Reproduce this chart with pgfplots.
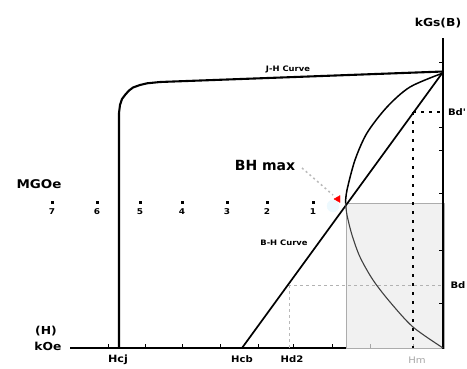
\documentclass[border=0pt]{standalone}
\usepackage{pgfplots}
\pgfplotsset{compat=1.18}
\usepackage{fontspec}
\setmainfont{DejaVu Sans}
\newfontfamily\lbl{DejaVu Sans}[FakeStretch=1.12]

\begin{document}
\begin{tikzpicture}
\begin{axis}[name=ax, scale only axis, width=467pt, height=368pt,
  xmin=0, xmax=467, ymin=0, ymax=368, y dir=reverse,
  hide axis, clip=false, unbounded coords=jump]

% second-quadrant working area (shaded)
\addplot[fill=gray!11, draw=gray!65, line width=0.8pt]
  coordinates {(346,203) (444,203) (444,348) (346,348)} -- cycle;

% B axis and H axis
\addplot[black, line width=2.3pt] coordinates {(443,38) (443,349)};
\addplot[black, line width=2.3pt] coordinates {(70,348) (346,348)};

% ticks on the H axis
\addplot[black, line width=1pt] coordinates {
  (108,348) (108,344) (nan,nan) (145,348) (145,344) (nan,nan)
  (182,348) (182,344) (nan,nan) (220,348) (220,344) (nan,nan)
  (258,348) (258,344) (nan,nan) (293,348) (293,344) (nan,nan)
  (332,348) (332,344)};
\addplot[gray!70, line width=0.8pt] coordinates {
  (370,348) (370,344) (nan,nan) (413,348) (413,344)};
% ticks on the B axis
\addplot[black, line width=1pt] coordinates {
  (443,62) (439,62) (nan,nan) (443,127) (439,127) (nan,nan)
  (443,150) (439,150) (nan,nan) (443,193) (439,193) (nan,nan)
  (443,250) (439,250) (nan,nan) (443,303) (439,303)};

% reference lines for the working points
\addplot[gray!60, dashed, line width=0.9pt] coordinates {(288,285) (443,285)};
\addplot[gray!55, dashed, line width=0.9pt] coordinates {(289,285) (289,348)};
\addplot[black, line width=1.8pt, dash pattern=on 3pt off 6pt]
  coordinates {(413,112) (413,348)};
\addplot[black, line width=1.8pt, dash pattern=on 3pt off 5pt]
  coordinates {(413,112) (443,112)};

% J-H curve (intrinsic)
\addplot[black, line width=2.1pt] coordinates {
  (119,348) (119,113) (120,105) (122,99) (125,95) (129,90.5) (133,87.5)
  (140,85) (147,83.3) (160,82) (443,71.5)};

% B-H curve (normal)
\addplot[black, line width=1.7pt] coordinates {(242,348) (443,72)};

% constant energy product curve through the working point
\addplot[black, line width=1.5pt, smooth] coordinates {
  (443,73) (410,87) (387,107) (367,133) (355,160) (347,190) (345.5,203)};
\addplot[black!75, line width=1.1pt, smooth] coordinates {
  (345.5,203) (347,215) (352,235) (360,257) (373,280) (390,302)
  (413,327) (443,348)};

% pointer to the maximum energy product
\addplot[gray!55, line width=1.5pt, dash pattern=on 2pt off 3pt]
  coordinates {(302,168) (333,195)};
\addplot[only marks, mark=*, mark size=6pt, cyan!7, mark options={draw=none}]
  coordinates {(333,206)};
\addplot[only marks, mark=triangle*, mark size=4pt, red,
  mark options={rotate=-30, fill=red}] coordinates {(338,199)};

% energy product scale (MGOe)
\addplot[only marks, mark=square*, mark size=1.1pt, black]
  coordinates {(52,202) (97,202) (140,202) (182,202) (227,202) (267,202) (313,202)};

\node[font=\lbl\bfseries\fontsize{12}{14}\selectfont] at (axis cs:39,184) {MGOe};
\node[font=\lbl\bfseries\fontsize{8}{9}\selectfont] at (axis cs:52,212) {7};
\node[font=\lbl\bfseries\fontsize{8}{9}\selectfont] at (axis cs:97,212) {6};
\node[font=\lbl\bfseries\fontsize{8}{9}\selectfont] at (axis cs:140,212) {5};
\node[font=\lbl\bfseries\fontsize{8}{9}\selectfont] at (axis cs:182,212) {4};
\node[font=\lbl\bfseries\fontsize{8}{9}\selectfont] at (axis cs:227,212) {3};
\node[font=\lbl\bfseries\fontsize{8}{9}\selectfont] at (axis cs:267,212) {2};
\node[font=\lbl\bfseries\fontsize{8}{9}\selectfont] at (axis cs:313,212) {1};

\node[font=\lbl\bfseries\fontsize{11}{13}\selectfont] at (axis cs:438,23) {kGs(B)};
\node[font=\lbl\bfseries\fontsize{7.5}{9}\selectfont] at (axis cs:288,69) {J-H Curve};
\node[font=\lbl\bfseries\fontsize{7.5}{9}\selectfont] at (axis cs:284,243) {B-H Curve};
\node[font=\bfseries\fontsize{14}{16}\selectfont] at (axis cs:265,165) {BH max};
\node[font=\lbl\bfseries\fontsize{9}{10}\selectfont] at (axis cs:457,112) {Bd'};
\node[font=\lbl\bfseries\fontsize{9}{10}\selectfont] at (axis cs:458,285) {Bd};

\node[font=\lbl\bfseries\fontsize{11}{12}\selectfont] at (axis cs:46,331) {(H)};
\node[font=\lbl\bfseries\fontsize{11}{12}\selectfont] at (axis cs:48,346) {kOe};
\node[font=\lbl\bfseries\fontsize{10}{11}\selectfont] at (axis cs:118,360) {Hcj};
\node[font=\lbl\bfseries\fontsize{9}{10}\selectfont] at (axis cs:242,359) {Hcb};
\node[font=\lbl\bfseries\fontsize{9}{10}\selectfont] at (axis cs:292,359) {Hd2};
\node[font=\lbl\fontsize{9}{10}\selectfont, text=gray!70] at (axis cs:417,360) {Hm};
\end{axis}
\pgfresetboundingbox
\path (ax.south west) rectangle (ax.north east);
\end{tikzpicture}
\end{document}
